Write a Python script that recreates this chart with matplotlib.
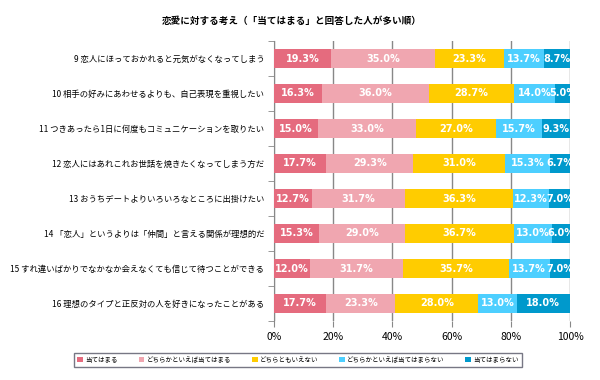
import matplotlib
matplotlib.use("Agg")
import matplotlib.pyplot as plt
import numpy as np

plt.rcParams['font.family'] = ['Noto Sans CJK JP', 'DejaVu Sans']

categories = [
    "9 恋人にほっておかれると元気がなくなってしまう",
    "10 相手の好みにあわせるよりも、自己表現を重視したい",
    "11 つきあったら1日に何度もコミュニケーションを取りたい",
    "12 恋人にはあれこれお世話を焼きたくなってしまう方だ",
    "13 おうちデートよりいろいろなところに出掛けたい",
    "14 「恋人」というよりは「仲間」と言える関係が理想的だ",
    "15 すれ違いばかりでなかなか会えなくても信じて待つことができる",
    "16 理想のタイプと正反対の人を好きになったことがある",
]
series_names = ["当てはまる", "どちらかといえば当てはまる", "どちらともいえない",
                "どちらかといえば当てはまらない", "当てはまらない"]
s1 = [19.3, 16.3, 15.0, 17.7, 12.7, 15.3, 12.0, 17.7]
s2 = [35.0, 36.0, 33.0, 29.3, 31.7, 29.0, 31.7, 23.3]
s3 = [23.3, 28.7, 27.0, 31.0, 36.3, 36.7, 35.7, 28.0]
s4 = [13.7, 14.0, 15.7, 15.3, 12.3, 13.0, 13.7, 13.0]
s5 = [8.7, 5.0, 9.3, 6.7, 7.0, 6.0, 7.0, 18.0]
colors = ["#E56B7E", "#F0A6B0", "#FFCC00", "#4DCFFF", "#0099CC"]
title = "恋愛に対する考え（「当てはまる」と回答した人が多い順）"
xticks = [0, 20, 40, 60, 80, 100]

fig = plt.figure(figsize=(6, 3.8), dpi=100)
ax = fig.add_axes([274/600, 1-321/380, 296/600, 280/380])

y = np.arange(len(categories))
left = np.zeros(len(categories))
data = [s1, s2, s3, s4, s5]
for vals, c, name in zip(data, colors, series_names):
    vals = np.array(vals)
    ax.barh(y, vals, left=left, height=0.55, color=c, label=name, zorder=3)
    for yi, l, v in zip(y, left, vals):
        ax.text(l + v/2, yi, f"{v:.1f}%", ha='center', va='center', color='white',
                fontsize=7, fontweight='bold', zorder=4, family=['DejaVu Sans'])
    left += vals

ax.set_xlim(0, 100)
ax.set_ylim(len(categories) - 0.5, -0.5)
ax.set_xticks(xticks)
ax.set_xticklabels([f"{t}%" for t in xticks], fontsize=7.5)
ax.set_yticks(y)
ax.set_yticklabels(categories, fontsize=6.0)
ax.tick_params(axis='y', length=0, pad=7)
ax.set_yticks(np.arange(-0.5, len(categories), 1), minor=True)
ax.tick_params(axis='y', which='minor', length=4, color='#888888', direction='out')
ax.tick_params(axis='x', length=4, color='#888888', pad=4)
ax.xaxis.grid(True, color='#888888', linewidth=1, zorder=0)
for s in ['top', 'right', 'bottom']:
    ax.spines[s].set_visible(False)
ax.spines['left'].set_color('#888888')

fig.text(292/600, 1-21/380, title, ha='center', va='center', fontsize=6.9, fontweight='bold')

leg = fig.legend(loc='center', bbox_to_anchor=(298/600, 1-360/380), ncol=5, fontsize=4.7,
                 frameon=True, fancybox=False, edgecolor='#555566', handlelength=0.9,
                 handleheight=0.9, columnspacing=3.2, handletextpad=0.3, borderpad=0.5)
leg.get_frame().set_linewidth(1)

fig.savefig("out.png", dpi=100)
